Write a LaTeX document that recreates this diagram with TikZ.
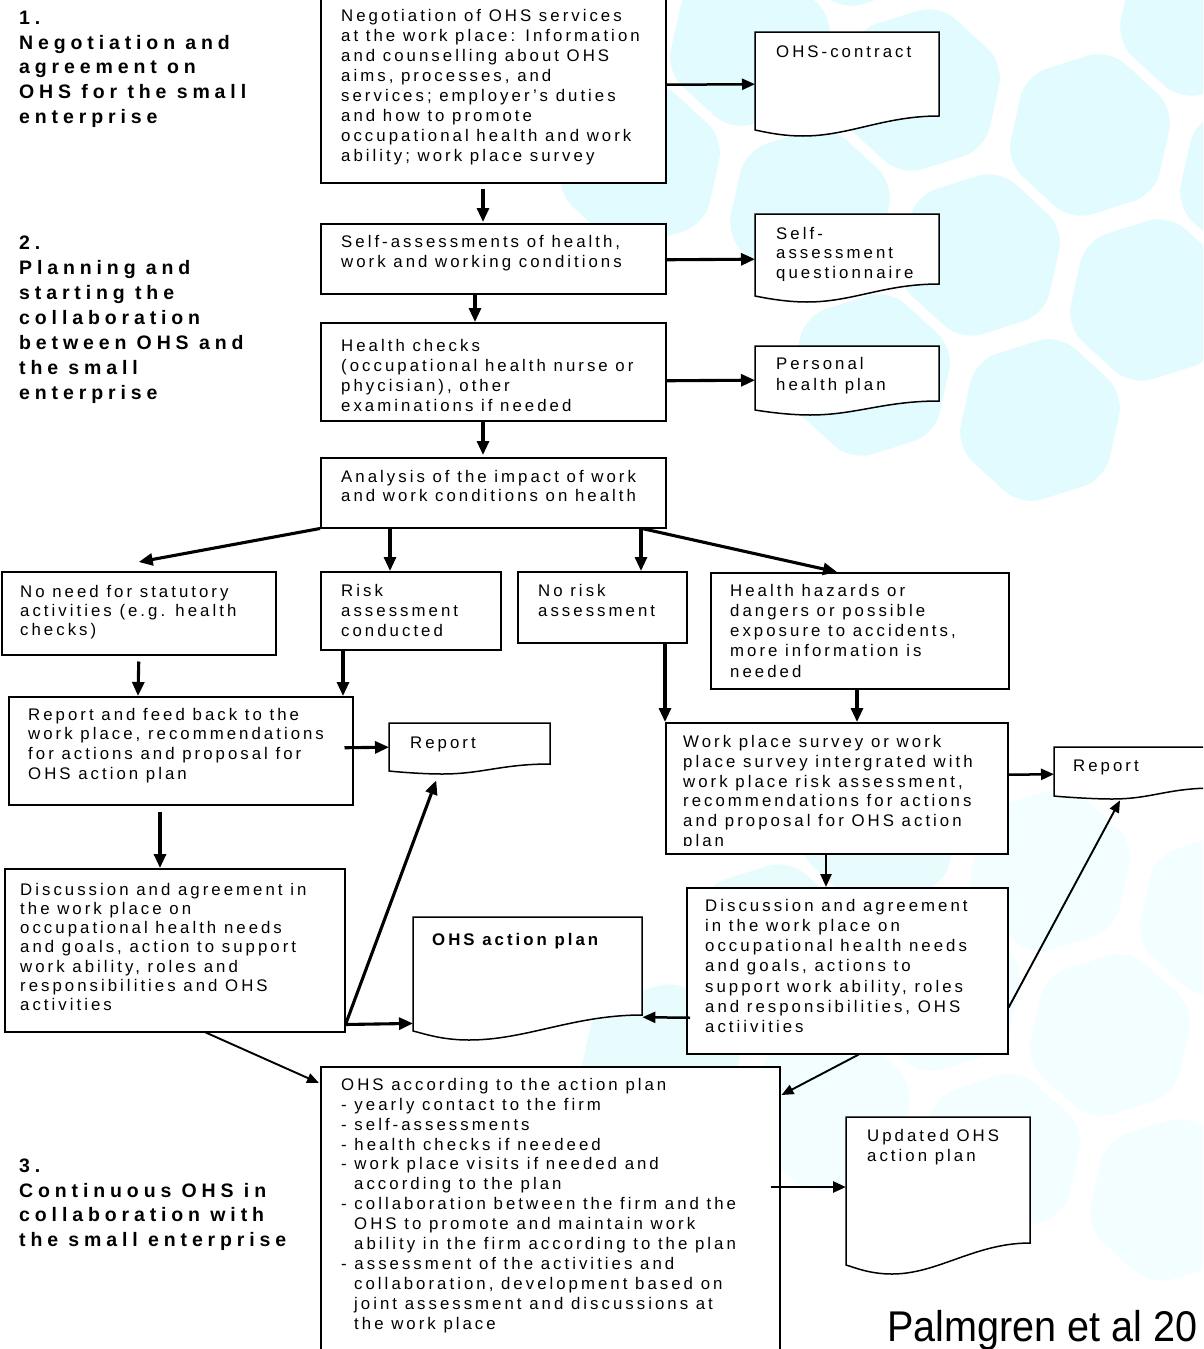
\documentclass[tikz,border=0pt]{standalone}
\usepackage{fontspec}
\setmainfont{Liberation Sans}[LetterSpace=18]
\newfontfamily\headfont{Liberation Sans}[LetterSpace=25]
\newfontfamily\palfont{Liberation Sans}[FakeStretch=0.92]
\usetikzlibrary{arrows.meta,calc}
\definecolor{hexc}{RGB}{225,251,254}
\definecolor{hexl}{RGB}{232,252,254}
\definecolor{hexf}{RGB}{242,254,255}
\tikzset{
 box/.style={draw=black, line width=1.5pt, fill=white, inner sep=0pt, anchor=north west},
 dochold/.style={inner sep=0pt, anchor=north west},
 docline/.style={draw=black, line width=1.5pt, fill=white},
 txt/.style={inner sep=0pt, anchor=north west, align=left, font=\fontsize{16.8}{#1}\selectfont},
 htxt/.style={inner sep=0pt, anchor=north west, align=left, font=\headfont\bfseries\fontsize{19.5}{#1}\selectfont},
 arr/.style={-{Triangle[length=13pt,width=11pt]}, line width=2.5pt},
 tarr/.style={-{Triangle[length=14pt,width=12pt]}, line width=3.1pt},
 narr/.style={-{Triangle[length=12pt,width=10pt]}, line width=1.9pt},
}
\newcommand{\hexcell}[3][hexc]{\fill[#1, rounded corners=22pt] (#2,#3) +(12.5:76.2) -- +(42.5:88) -- +(102.5:88) -- +(162.5:88) -- +(222.5:88) -- +(282.5:88) -- +(342.5:88) -- cycle;}
\newcommand{\mybox}[5]{\node[box, minimum width=#4pt, minimum height=#5pt] (#1) at (#2,#3) {};}
% name, x1, y1, x2, yr, yl, xm, ym
\newcommand{\docshape}[8]{%
 \pgfmathsetmacro\dw{#4-#2}\pgfmathsetmacro\dh{#6-#3}%
 \path[docline] (#2,#3) -- (#4,#3) -- (#4,#5) .. controls ({#4-0.3*(#4-#2)},#5) and ({#7+0.25*(#4-#2)},#8) .. (#7,#8) .. controls ({#7-0.12*(#4-#2)},#8) and ({#2+0.05*(#4-#2)},{#6+0.3*(#8-#6)}) .. (#2,#6) -- cycle;
 \node[dochold, minimum width=\dw pt, minimum height=\dh pt] (#1) at (#2,#3) {};}
\newcommand{\btxt}[5]{\node[txt={#4}] (#1) at (#2,{#3-0.7*#4}) {\strut #5};}
\begin{document}
\begin{tikzpicture}[x=1pt,y=-1pt]
\useasboundingbox (0,0) rectangle (1203,1349);
\clip (0,0) rectangle (1203,1349);
% background honeycomb
\hexcell{980}{255}\hexcell{1090}{135}\hexcell{1200}{15}\hexcell{870}{375}
\hexcell{1040}{420}\hexcell{920}{90}\hexcell{810}{210}\hexcell{750}{45}
\hexcell{640}{165}\hexcell{1150}{300}\hexcell{1260}{180}\hexcell{860}{-75}
\hexcell[hexl]{880}{825}\hexcell[hexf]{1050}{870}\hexcell[hexf]{1220}{915}\hexcell[hexf]{940}{990}
\hexcell[hexl]{770}{945}\hexcell[hexl]{660}{1065}\hexcell[hexf]{1110}{1035}\hexcell[hexf]{1000}{1155}
\hexcell[hexf]{1170}{1200}\hexcell[hexf]{830}{1110}
% boxes
\mybox{A}{320}{-10}{345}{192}
\mybox{B}{320}{223}{345}{70}
\mybox{C}{320}{322}{345}{98}
\mybox{D}{320}{457}{345}{70}
\mybox{E1}{1}{571}{274}{83}
\mybox{E2}{320}{571}{180}{78}
\mybox{E3}{517}{571}{169}{71}
\mybox{E4}{710}{572}{298}{116}
\mybox{F1}{8}{696}{344}{108}
\mybox{F2}{665}{722}{342}{131}
\mybox{G1}{4}{868}{340}{163}
\mybox{G2}{686}{887}{321}{166}
\mybox{H}{320}{1066}{459}{314}
% documents
\docshape{contract}{755}{32}{939}{116}{130}{803}{136}
\docshape{selfq}{755}{214}{939}{284}{296}{807}{302}
\docshape{phealth}{755}{346}{939}{401}{410}{810}{415}
\docshape{rep1}{389}{723}{550}{764}{771}{442}{774}
\docshape{rep2}{1054}{747}{1215}{788}{796}{1112}{799}
\docshape{action}{413}{917}{642}{1015}{1031}{469}{1040}
\docshape{upd}{846}{1117}{1030}{1243}{1265}{892}{1274}
% headings
\node[htxt={24.8}] (h1) at (19,{24-0.7*24.8}) {\strut 1.\\Negotiation and\\agreement on\\OHS for the small\\enterprise};
\node[htxt={25}] (h2) at (19,{249-0.7*25}) {\strut 2.\\Planning and\\starting the\\collaboration\\between OHS and\\the small\\enterprise};
\node[htxt={24.8}] (h3) at (19,{1172-0.7*24.8}) {\strut 3.\\Continuous OHS in\\collaboration with\\the small enterprise};
% texts
\btxt{tA}{341}{21}{20.1}{Negotiation of OHS services\\at the work place: Information\\and counselling about OHS\\aims, processes, and\\services; employer's duties\\and how to promote\\occupational health and work\\ability; work place survey}
\btxt{tcontract}{776}{57}{20}{OHS-contract}
\btxt{tB}{341}{247}{20}{Self-assessments of health,\\work and working conditions}
\begin{scope}
\clip (750,205) rectangle (945,280);
\btxt{tselfq}{776}{239}{19.5}{Self-\\assessment\\questionnaire}
\end{scope}
\btxt{tC}{341}{351}{20}{Health checks\\(occupational health nurse or\\phycisian), other\\examinations if needed}
\btxt{tphealth}{776}{369}{21}{Personal\\health plan}
\btxt{tD}{341}{482}{19.5}{Analysis of the impact of work\\and work conditions on health}
\btxt{tE1}{20}{597}{19.3}{No need for statutory\\activities (e.g. health\\checks)}
\btxt{tE2}{341}{596}{20}{Risk\\assessment\\conducted}
\btxt{tE3}{538}{596}{20}{No risk\\assessment}
\btxt{tE4}{730}{596}{20.2}{Health hazards or\\dangers or possible\\exposure to accidents,\\more information is\\needed}
\btxt{tF1}{28}{720}{19.7}{Report and feed back to the\\work place, recommendations\\for actions and proposal for\\OHS action plan}
\btxt{trep1}{410}{748}{20}{Report}
\begin{scope}
\clip (660,725) rectangle (1010,845);
\btxt{tF2}{683}{747}{19.9}{Work place survey or work\\place survey intergrated with\\work place risk assessment,\\recommendations for actions\\and proposal for OHS action\\plan}
\end{scope}
\btxt{trep2}{1073}{771}{20}{Report}
\btxt{tG1}{20}{895}{19.2}{Discussion and agreement in\\the work place on\\occupational health needs\\and goals, action to support\\work ability, roles and\\responsibilities and OHS\\activities}
\btxt{taction}{432}{945}{20}{\bfseries OHS action plan}
\btxt{tG2}{705}{911}{20.2}{Discussion and agreement\\in the work place on\\occupational health needs\\and goals, actions to\\support work ability, roles\\and responsibilities, OHS\\actiivities}
\btxt{tH}{341}{1090}{19.93}{OHS according to the action plan\\- yearly contact to the firm\\- self-assessments\\- health checks if needeed\\- work place visits if needed and\\\hspace*{13pt}according to the plan\\- collaboration between the firm  and the\\\hspace*{13pt}OHS to promote and maintain work\\\hspace*{13pt}ability in the firm according to the plan\\- assessment of the activities and\\\hspace*{13pt}collaboration, development based on\\\hspace*{13pt}joint assessment and discussions at\\\hspace*{13pt}the work place}
\btxt{tupd}{867}{1141}{20}{Updated OHS\\action plan}
\node[inner sep=0pt, anchor=base west, font=\palfont\fontsize{43}{50}\selectfont] (pal) at (887,1341) {Palmgren et al 20};
% connectors
\draw[tarr] ($(A.south west)+(163,5)$) -- ($(B.north west)+(163,-1)$);
\draw[tarr] ($(B.south west)+(155,0)$) -- ($(C.north west)+(155,0)$);
\draw[tarr] ($(C.south west)+(163,0)$) -- ($(D.north west)+(163,-2)$);
\draw[arr] ($(A.east)+(0,-2)$) -- ($(contract.west)+(0,3)$);
\draw[tarr] ($(B.east)+(0,1)$) -- ($(selfq.west)+(0,4)$);
\draw[tarr] ($(C.east)+(0,9)$) -- ($(phealth.west)+(0,2)$);
\draw[tarr] (D.south west) -- ($(E1.north)+(0,-9)$);
\draw[tarr] ($(D.south west)+(70,0)$) -- ($(E2.north west)+(70,0)$);
\draw[tarr] ($(D.south west)+(321,0)$) -- ($(E3.north west)+(124,0)$);
\draw[tarr] ($(D.south west)+(322,0)$) -- ($(E4.north west)+(127,0)$);
\draw[tarr] ($(E1.south)+(0,6)$) -- ($(F1.north west)+(130,0)$);
\draw[tarr] ($(E2.south west)+(23,0)$) -- ($(F1.north west)+(335,0)$);
\draw[tarr] ($(E3.south west)+(148,0)$) -- (F2.north west);
\draw[tarr] ($(E4.south west)+(147,0)$) -- ($(F2.north west)+(192,0)$);
\draw[tarr] ($(F1.east)+(-9,-3)$) -- (rep1.west);
\draw[arr] ($(F2.east)+(-1,-13.5)$) -- ($(rep2.west)+(0,2.5)$);
\draw[tarr] ($(F1.south west)+(152,6)$) -- ($(G1.north west)+(156,0)$);
\draw[arr] ($(F2.south west)+(161,0)$) -- ($(G2.north west)+(140,0)$);
\draw[tarr] ($(G1.south east)+(0,-8)$) -- ($(rep1.south)+(-33.5,9)$);
\draw[tarr] ($(G1.south east)+(0,-8)$) -- ($(action.south west)+(0,-8)$);
\draw[arr] ($(G2.west)+(4,47)$) -- ($(action.east)+(0,43)$);
\draw[narr] ($(G2.east)+(0,37)$) -- ($(rep2.south west)+(66,4)$);
\draw[narr] ($(G1.south)+(31,0)$) -- ($(H.north west)+(-1,17)$);
\draw[narr] ($(G2.south)+(11.5,0)$) -- ($(H.north east)+(1,29)$);
\draw[arr] ($(H.north east)+(-10,121)$) -- ($(upd.north west)+(0,70)$);
\end{tikzpicture}
\end{document}
